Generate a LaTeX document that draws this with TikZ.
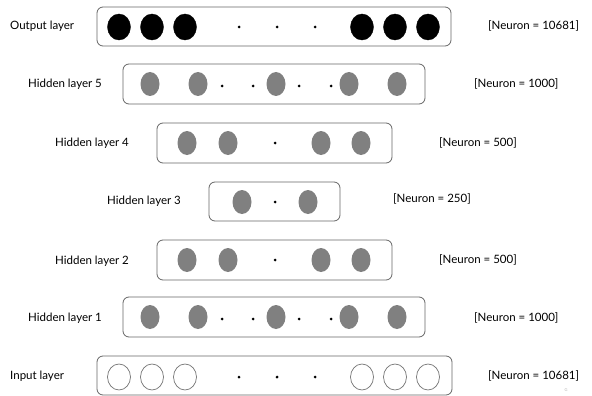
\documentclass[tikz,border=0pt]{standalone}
\usepackage{fontspec}
\setmainfont{Lato}
\usetikzlibrary{shapes.geometric}
\begin{document}
\begin{tikzpicture}[x=1pt,y=-1pt,
  layerbox/.style={draw=black!60,line width=0.8pt,rounded corners=6pt,inner sep=0pt},
  outn/.style={ellipse,fill=black,draw=black,minimum width=23pt,minimum height=26pt,inner sep=0pt},
  inn/.style={ellipse,fill=white,draw=black!55,line width=0.7pt,minimum width=23pt,minimum height=26pt,inner sep=0pt},
  hidn/.style={ellipse,fill=black!50,draw=none,minimum width=19pt,minimum height=24pt,inner sep=0pt},
  dotn/.style={circle,fill=black,inner sep=0pt,minimum size=3pt},
  lbl/.style={anchor=west,font=\fontsize{11.5}{13}\selectfont,inner sep=0pt},
  wm/.style={font=\fontsize{4}{4}\selectfont,text=black!30,inner sep=0pt}]
\useasboundingbox (0,0) rectangle (592,396);
\fill[white] (0,0) rectangle (592,396);

% ---------- Output layer ----------
\node[layerbox,minimum width=354pt,minimum height=39pt] (boxO) at (274,26.5) {};
\foreach \x [count=\i] in {119,152,185,362,395,428} \node[outn] (o\i) at (\x,27) {};
\foreach \x [count=\i] in {239,277,315} \node[dotn] (od\i) at (\x,27) {};
\node[lbl] (lO) at (10,26) {Output layer};
\node[lbl] (rO) at (488,26) {[Neuron = 10681]};

% ---------- Hidden layer 5 ----------
\node[layerbox,minimum width=302pt,minimum height=40pt] (box5) at (274,84) {};
\foreach \x [count=\i] in {150,198,276,349,397} \node[hidn] (h5n\i) at (\x,84) {};
\foreach \x [count=\i] in {222,253,299,331} \node[dotn] (h5d\i) at (\x,86) {};
\node[lbl] (l5) at (28,84) {Hidden layer 5};
\node[lbl] (r5) at (474,84) {[Neuron = 1000]};

% ---------- Hidden layer 4 ----------
\node[layerbox,minimum width=235pt,minimum height=40pt] (box4) at (274.5,143) {};
\foreach \x [count=\i] in {187,228,321,361} \node[hidn] (h4n\i) at (\x,143) {};
\node[dotn] (h4d) at (275,143) {};
\node[lbl] (l4) at (55,143) {Hidden layer 4};
\node[lbl] (r4) at (439,143) {[Neuron = 500]};

% ---------- Hidden layer 3 ----------
\node[layerbox,minimum width=131pt,minimum height=39pt] (box3) at (274.5,201.5) {};
\foreach \x [count=\i] in {242,308} \node[hidn] (h3n\i) at (\x,202) {};
\node[dotn] (h3d) at (275,202) {};
\node[lbl] (l3) at (107,201) {Hidden layer 3};
\node[lbl] (r3) at (393,199) {[Neuron = 250]};

% ---------- Hidden layer 2 ----------
\node[layerbox,minimum width=235pt,minimum height=40pt] (box2) at (274.5,260) {};
\foreach \x [count=\i] in {187,228,321,361} \node[hidn] (h2n\i) at (\x,260) {};
\node[dotn] (h2d) at (275,260) {};
\node[lbl] (l2) at (55,261) {Hidden layer 2};
\node[lbl] (r2) at (439,260) {[Neuron = 500]};

% ---------- Hidden layer 1 ----------
\node[layerbox,minimum width=302pt,minimum height=40pt] (box1) at (274,317) {};
\foreach \x [count=\i] in {150,198,276,349,397} \node[hidn] (h1n\i) at (\x,317) {};
\foreach \x [count=\i] in {222,253,299,331} \node[dotn] (h1d\i) at (\x,319) {};
\node[lbl] (l1) at (28,318) {Hidden layer 1};
\node[lbl] (r1) at (474,318) {[Neuron = 1000]};

% ---------- Input layer ----------
\node[layerbox,minimum width=355pt,minimum height=39pt] (boxI) at (274.5,375.5) {};
\foreach \x [count=\i] in {119,152,185,362,395,428} \node[inn] (i\i) at (\x,377) {};
\foreach \x [count=\i] in {239,277,315} \node[dotn] (id\i) at (\x,377) {};
\node[lbl] (lI) at (10,376) {Input layer};
\node[lbl] (rI) at (488,376) {[Neuron = 10681]};

\node[wm] (mark) at (566,390) {G};
\end{tikzpicture}
\end{document}
